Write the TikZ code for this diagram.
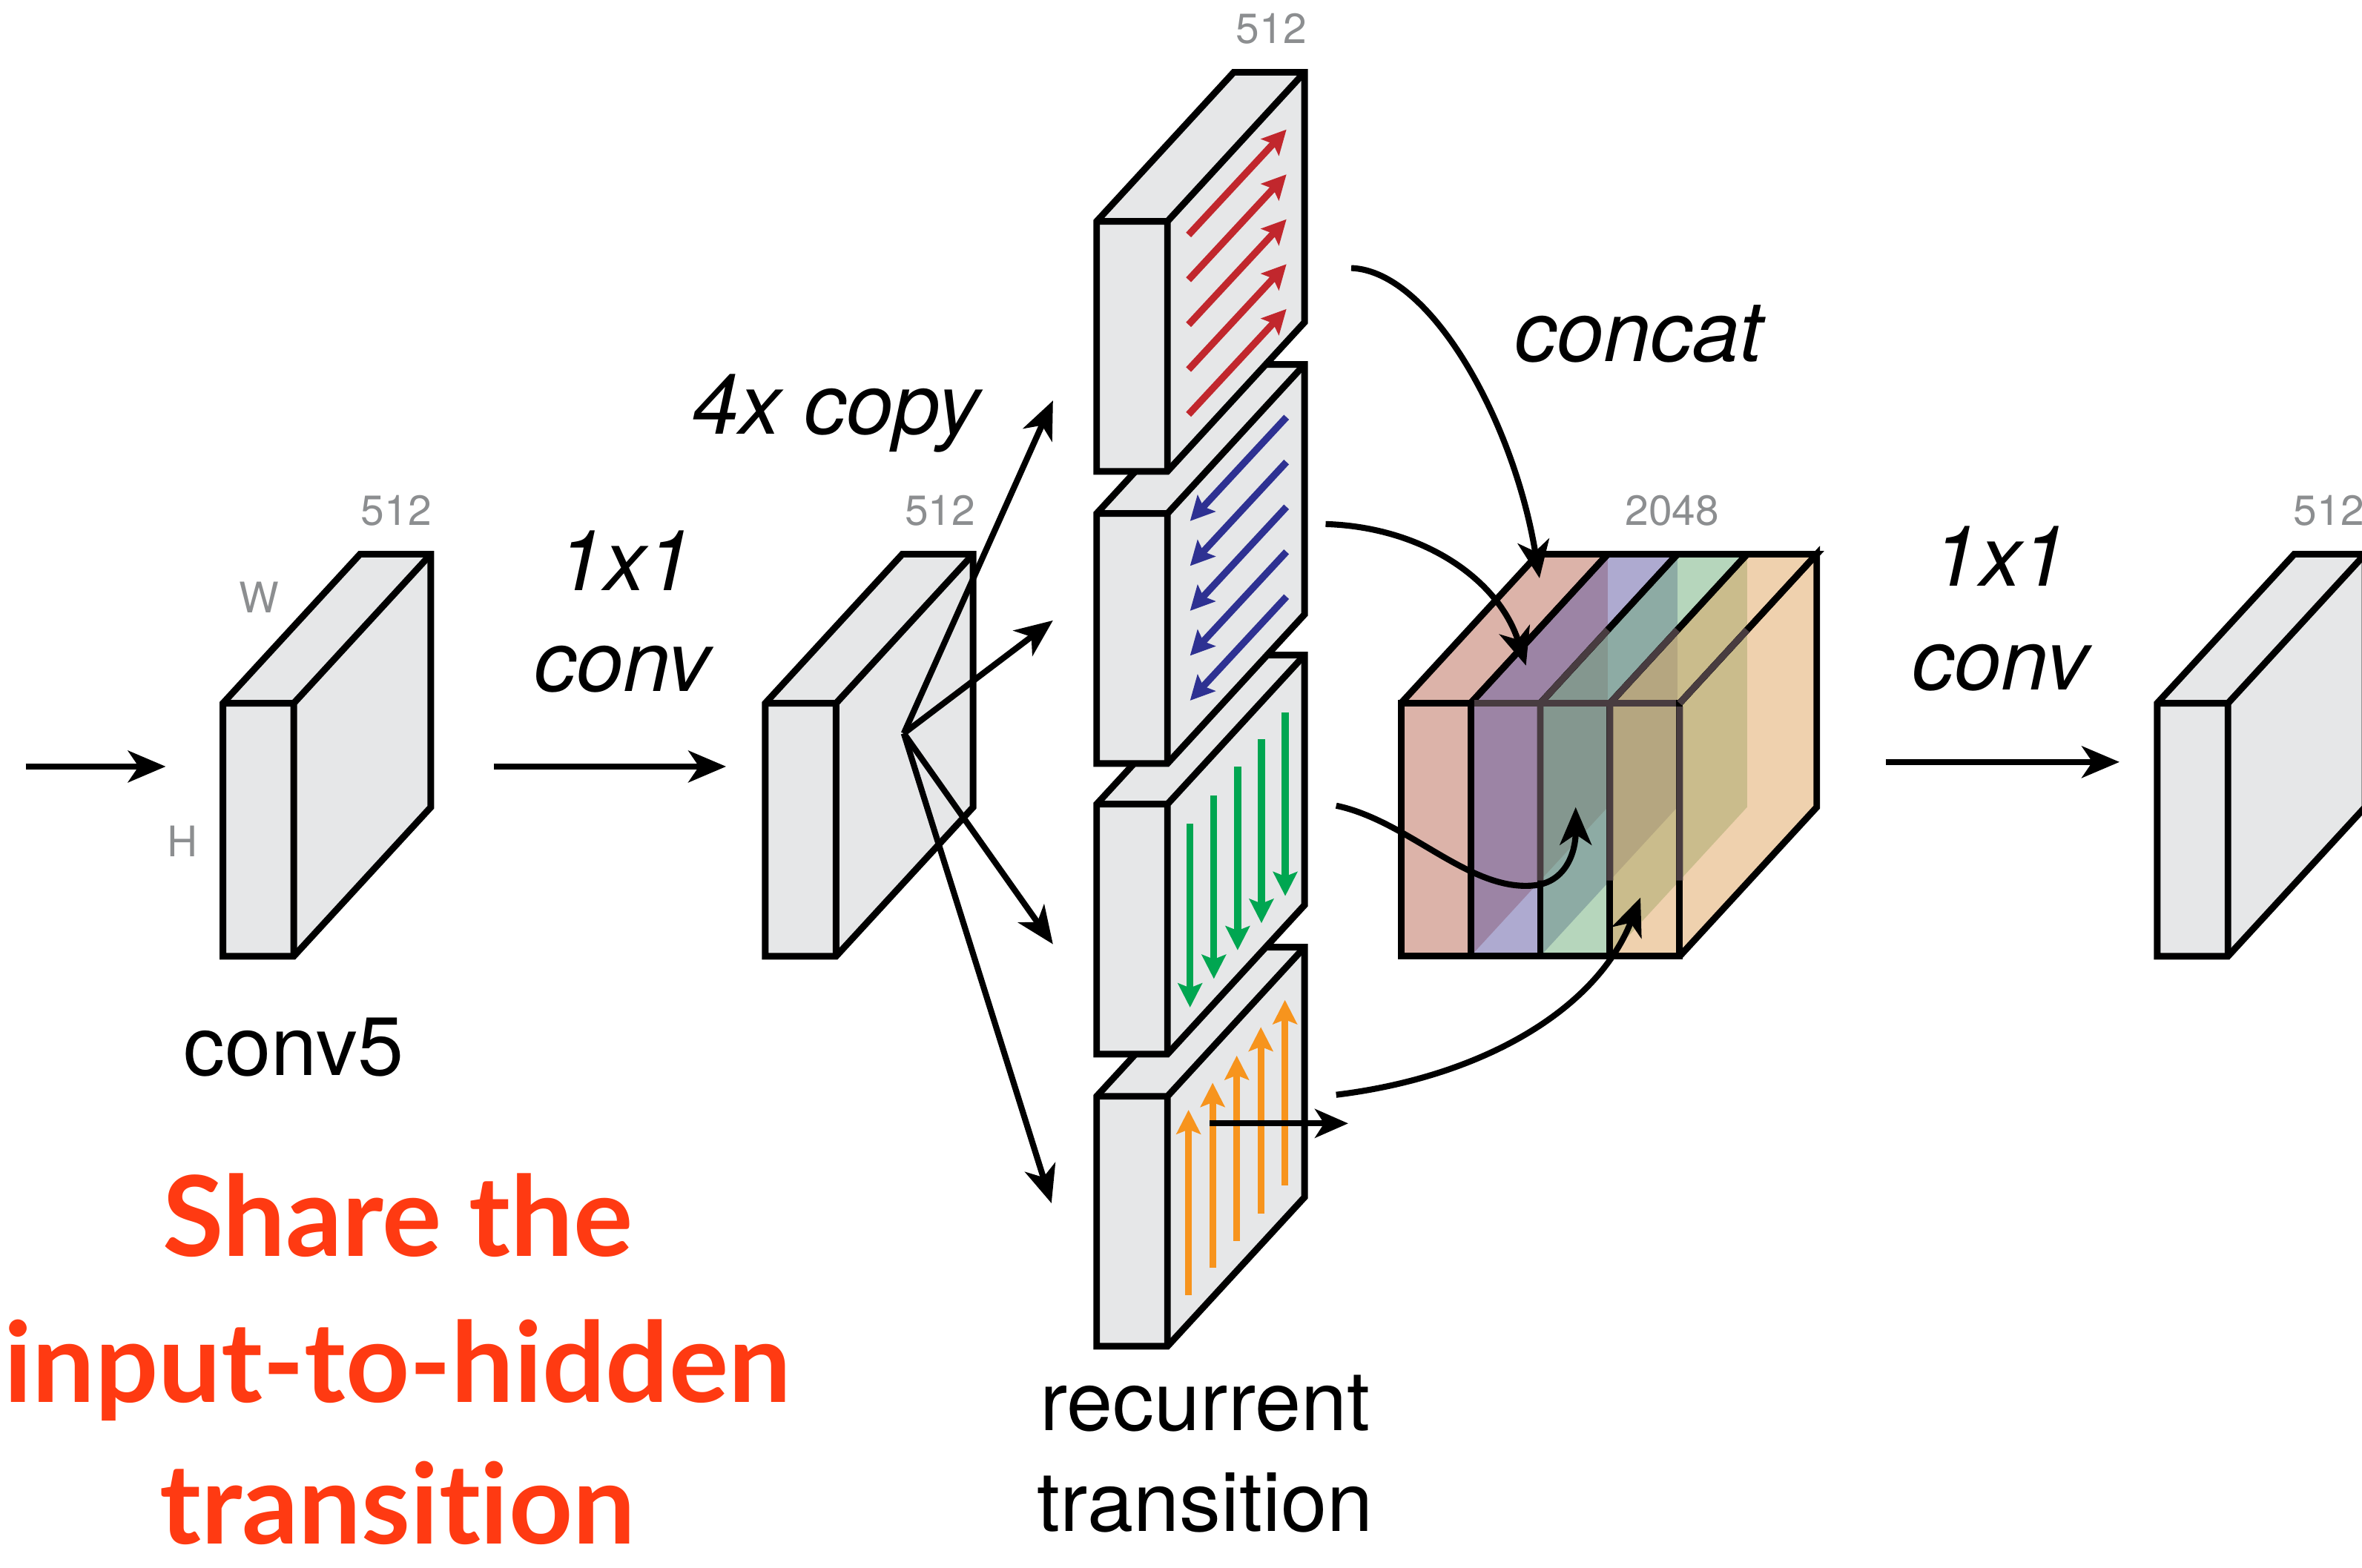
\documentclass[tikz,border=0pt]{standalone}
\usepackage{fontspec}
\setmainfont{TeX Gyre Heros}
\newfontfamily\headfont[Ligatures=NoCommon]{Lato}
\usetikzlibrary{arrows.meta}

\definecolor{facegray}{HTML}{E6E7E8}
\definecolor{dimgray}{HTML}{8C8E90}
\definecolor{arrRed}{HTML}{C1272D}
\definecolor{arrBlue}{HTML}{2E3192}
\definecolor{arrGreen}{HTML}{00A651}
\definecolor{arrOrange}{HTML}{F7941D}
\definecolor{noteRed}{HTML}{FF3A12}
\definecolor{slabPink}{RGB}{185,103,83}
\definecolor{slabPurple}{RGB}{93,85,161}
\definecolor{slabGreen}{RGB}{109,173,121}
\definecolor{slabOrange}{RGB}{223,163,93}
\definecolor{seenThrough}{HTML}{483C40}

% depth offset shared by every feature map
\def\dpx{91}
\def\dpy{-99}

\tikzset{
  boxline/.style={line width=4.4pt, black},
  flow/.style={line width=4pt, -{Stealth[length=25pt,width=21pt,inset=7pt]}},
  inner/.style={line width=4.6pt, -{Stealth[length=16pt,width=16pt,inset=3pt]}},
  dimlabel/.style={text=dimgray, anchor=base, inner sep=0pt, font=\fontsize{28}{28}\selectfont},
  caption/.style={anchor=base, inner sep=0pt, font=\fontsize{55}{60}\selectfont},
  oplabel/.style={anchor=base, inner sep=0pt, font=\itshape\fontsize{56}{60}\selectfont},
  note/.style={anchor=base, inner sep=0pt, text=noteRed, font=\headfont\bfseries\fontsize{74}{78}\selectfont},
  slabfill/.style={fill=#1, fill opacity=0.5},
}

% feature map: front top-left corner (#1,#2), front width #3, height #4
\newcommand{\fmap}[4]{%
  \filldraw[boxline, fill=facegray] (#1,#2+#4) -- (#1,#2) -- ++(\dpx,\dpy) -- ++(#3,0)
    -- ++(0,#4) -- (#1+#3,#2+#4) -- cycle;
  \draw[boxline] (#1,#2) -- ++(#3,0) -- ++(\dpx,\dpy) (#1+#3,#2) -- ++(0,#4);
}

% faces of one translucent slab of the concatenated block: left x #1, width #2, colour #3
\newcommand{\cslabfill}[3]{%
  \fill[slabfill=#3] (#1,467) rectangle ++(#2,168);
  \fill[slabfill=#3] (#1,467) -- ++(\dpx,\dpy) -- ++(#2,0) -- ++(-\dpx,-\dpy) -- cycle;
  \fill[slabfill=#3] (#1+#2,467) -- ++(\dpx,\dpy) -- ++(0,168) -- ++(-\dpx,-\dpy) -- cycle;
}
% visible edges of one slab
\newcommand{\cslabedge}[2]{%
  \draw[boxline] (#1,467) rectangle ++(#2,168);
  \draw[boxline] (#1,467) -- ++(\dpx,\dpy) -- ++(#2,0) -- ++(-\dpx,-\dpy);
}

\begin{document}
\begin{tikzpicture}[x=1pt, y=-1pt]
\useasboundingbox (0,0) rectangle (1568,1041);
\clip (0,0) rectangle (1568,1041);

% ---------------- conv5 ----------------
\fmap{148}{467}{47}{168}
\node[dimlabel] (c5dim) at (263,349) {512};
\node[dimlabel] (c5w) at (172,407) {W};
\node[dimlabel] (c5h) at (121,569) {H};
\node[caption] (c5cap) at (195,714) {conv5};

\coordinate (inL) at (17,509);
\coordinate (inR) at (110,509);
\draw[flow] (inL) -- (inR);

% ---------------- 1x1 conv ----------------
\coordinate (c1L) at (328,509);
\coordinate (c1R) at (482,509);
\draw[flow] (c1L) -- (c1R);
\node[oplabel] (c1a) at (415,392) {1x1};
\node[oplabel] (c1b) at (413,459) {conv};

\fmap{508}{467}{47}{168}
\node[dimlabel] (redim) at (624,349) {512};

% ---------------- recurrent column (drawn bottom up) ----------------
% bottom: upward sweep
\fmap{728}{728}{47}{166}
\foreach \i/\t/\h in {0/860/737, 1/842/719, 2/824/701, 3/806/682, 4/787/664}
  \draw[inner, arrOrange] (789+16*\i,\t) -- (789+16*\i,\h);
\coordinate (srcD) at (803,746);
\coordinate (dstD) at (895,746);
\draw[line width=4pt, -{Stealth[length=22pt,width=19pt,inset=6pt]}] (srcD) -- (dstD);

% third: downward sweep
\fmap{728}{534}{47}{166}
\foreach \i/\t/\h in {0/547/669, 1/528/650, 2/509/631, 3/491/613, 4/473/595}
  \draw[inner, arrGreen] (790+15.8*\i,\t) -- (790+15.8*\i,\h);

% second: leftward sweep
\fmap{728}{341}{47}{166}
\foreach \i in {0,...,4}
  \draw[inner, arrBlue] (854,277+29.8*\i) -- (790,346+29.8*\i);

% top: rightward sweep
\fmap{728}{147}{47}{166}
\foreach \i in {0,...,4}
  \draw[inner, arrRed] (789,156+29.8*\i) -- (854,86+29.8*\i);
\node[dimlabel] (rdim) at (844,29) {512};

\node[caption] (rc1) at (800,950) {recurrent};
\node[caption] (rc2) at (800,1017) {transition};

% ---------------- 4x copy ----------------
\coordinate (split) at (600,487);
\coordinate (toA) at (699,266);
\coordinate (toB) at (699,412);
\coordinate (toC) at (699,627);
\coordinate (toD) at (698,799);
\draw[flow] (split) -- (toA);
\draw[flow] (split) -- (toB);
\draw[flow] (split) -- (toC);
\draw[flow] (split) -- (toD);
\node[oplabel] (copy) at (555,288) {4x copy};

% ---------------- concat block ----------------
\cslabfill{930}{46.25}{slabPink}
\cslabfill{976.25}{46.25}{slabPurple}
\cslabfill{1022.5}{46.25}{slabGreen}
\cslabfill{1068.75}{46.25}{slabOrange}
\cslabedge{1068.75}{46.25}
\draw[boxline] (1115,635) -- ++(\dpx,\dpy) -- ++(0,-168) -- ++(-\dpx,-\dpy);
\cslabedge{1022.5}{46.25}
\cslabedge{976.25}{46.25}
\cslabedge{930}{46.25}
% edges lying behind the translucent side faces
\draw[line width=4.4pt, seenThrough] (978.5,467) -- (1112.8,467);
\foreach \x in {1022.5,1068.75,1115}
  \draw[line width=4.4pt, seenThrough] (\x,469.2) -- (\x,584.7)
    (\x,467) -- ++(44.75,-48.7);

\node[dimlabel] (cdim) at (1110,349) {2048};
\node[oplabel] (cc) at (1088,240) {concat};

\coordinate (oA) at (897,178);
\coordinate (iA) at (1022,384);
\coordinate (oB) at (880,348);
\coordinate (iB) at (1013,442);
\coordinate (oC) at (887,535);
\coordinate (kC) at (1018,588);
\coordinate (iC) at (1046,536);
\coordinate (oD) at (887,727);
\coordinate (iD) at (1089,596);
\draw[flow] (oA) .. controls (950,180) and (1005,280) .. (iA);
\draw[flow] (oB) .. controls (945,350) and (995,385) .. (iB);
\draw[flow] (oC) .. controls (935,545) and (975,592) .. (kC) .. controls (1040,586) and (1046,565) .. (iC);
\draw[flow] (oD) .. controls (985,715) and (1060,670) .. (iD);

% ---------------- 1x1 conv to output ----------------
\coordinate (c2L) at (1252,506);
\coordinate (c2R) at (1407,506);
\draw[flow] (c2L) -- (c2R);
\node[oplabel] (c2a) at (1328,389) {1x1};
\node[oplabel] (c2b) at (1328,458) {conv};

\fmap{1432}{467}{47}{168}
\node[dimlabel] (odim) at (1546,349) {512};

% ---------------- note ----------------
\node[note] (n1) at (264,834) {Share the};
\node[note] (n2) at (264,931) {input-to-hidden};
\node[note] (n3) at (264,1025) {transition};
\end{tikzpicture}
\end{document}
